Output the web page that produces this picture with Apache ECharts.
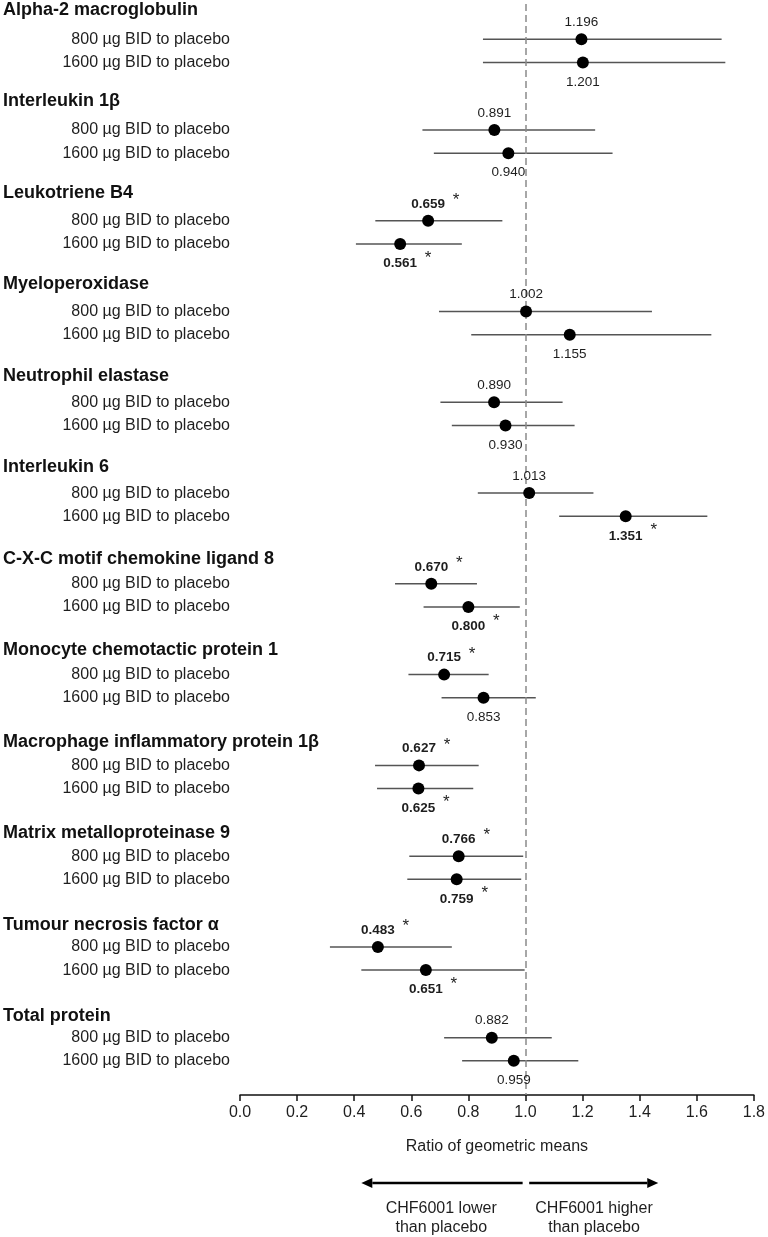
<!DOCTYPE html>
<html><head><meta charset="utf-8">
<script src="https://cdn.jsdelivr.net/npm/echarts@6/dist/echarts.min.js"></script>
<style>html,body{margin:0;padding:0;background:#fff}#c{width:768px;height:1237px}</style>
</head><body><div id="c"></div>
<script>
const groups = ['Alpha-2 macroglobulin','Interleukin 1β','Leukotriene B4','Myeloperoxidase','Neutrophil elastase','Interleukin 6','C-X-C motif chemokine ligand 8','Monocyte chemotactic protein 1','Macrophage inflammatory protein 1β','Matrix metalloproteinase 9','Tumour necrosis factor α','Total protein'];
const doseLabels = ['800 µg BID to placebo','1600 µg BID to placebo'];
const est800  = [1.196,0.891,0.659,1.002,0.890,1.013,0.670,0.715,0.627,0.766,0.483,0.882];
const low800  = [0.851,0.639,0.474,0.697,0.702,0.833,0.543,0.590,0.473,0.593,0.315,0.715];
const high800 = [1.687,1.244,0.919,1.443,1.130,1.238,0.830,0.871,0.836,0.992,0.742,1.092];
const sig800  = [false,false,true,false,false,false,true,true,true,true,true,false];
const est1600  = [1.201,0.940,0.561,1.155,0.930,1.351,0.800,0.853,0.625,0.759,0.651,0.959];
const low1600  = [0.851,0.679,0.406,0.810,0.742,1.118,0.643,0.706,0.480,0.586,0.425,0.778];
const high1600 = [1.700,1.305,0.777,1.651,1.172,1.637,0.980,1.036,0.817,0.985,0.997,1.185];
const sig1600  = [false,false,true,false,false,true,true,false,true,true,true,false];
const xTickLabels = ['0.0','0.2','0.4','0.6','0.8','1.0','1.2','1.4','1.6','1.8'];
const axisTitle = 'Ratio of geometric means';
const lowerText = 'CHF6001 lower\nthan placebo';
const higherText = 'CHF6001 higher\nthan placebo';

const FONT = '"Liberation Sans", Arial, Helvetica, sans-serif';
const TXT = '#1e1e1e';
// vertical layout (y axis units = pixels below the grid top)
const gridTop = 4, gridBottom = 142, gridLeft = 240, gridRight = 13;
const hPos = i => 6 + 91.5 * i;
const rPos = (i, d) => 35.3 + 90.76 * i + (d === 0 ? 0 : 23.2);

const labelMap = {};
const customVals = [];
groups.forEach((g, i) => {
  labelMap[hPos(i).toFixed(3)] = '{h|' + g + '}';
  customVals.push(hPos(i));
  doseLabels.forEach((dl, d) => {
    labelMap[rPos(i, d).toFixed(3)] = '{r|' + dl + '}';
    customVals.push(rPos(i, d));
  });
});

const ests = [est800, est1600], lows = [low800, low1600], highs = [high800, high1600], sigs = [sig800, sig1600];
const ciData = [], ptData = [], starData = [];
groups.forEach((g, i) => {
  for (let d = 0; d < 2; d++) {
    const y = rPos(i, d);
    ciData.push([lows[d][i], highs[d][i], y]);
    const sig = sigs[d][i];
    ptData.push({
      value: [ests[d][i], y],
      label: {
        show: true,
        position: d === 0 ? 'top' : 'bottom',
        distance: d === 0 ? 4 : 6.5,
        formatter: ests[d][i].toFixed(3),
        fontWeight: sig ? 'bold' : 'normal'
      }
    });
    if (sig) {
      starData.push({
        value: [ests[d][i], y],
        label: {
          show: true,
          position: d === 0 ? 'top' : 'bottom',
          distance: d === 0 ? 4 : 6.5,
          offset: [28, d === 0 ? -8 : -1]
        }
      });
    }
  }
});

const chart = echarts.init(document.getElementById('c'), null, {renderer: 'canvas'});
const yMin = 0, yMax = 1237 - gridTop - gridBottom;

chart.setOption({
  backgroundColor: '#fff',
  animation: false,
  textStyle: {fontFamily: FONT},
  grid: {left: gridLeft, right: gridRight, top: gridTop, bottom: gridBottom, containLabel: false},
  xAxis: {
    type: 'value', min: 0, max: 1.8, interval: 0.2,
    name: axisTitle, nameLocation: 'middle', nameGap: 44,
    nameTextStyle: {fontSize: 16, color: TXT, fontFamily: FONT},
    axisLine: {show: true, onZero: false, lineStyle: {color: '#111', width: 1.5}},
    axisTick: {show: true, length: 6, lineStyle: {color: '#111', width: 1.5}},
    axisLabel: {fontSize: 16, color: TXT, margin: 10, fontFamily: FONT,
      formatter: v => xTickLabels[Math.round(v / 0.2)] || ''},
    splitLine: {show: false}
  },
  yAxis: {
    type: 'value', inverse: true, min: yMin, max: yMax,
    axisLine: {show: false}, axisTick: {show: false}, splitLine: {show: false},
    axisLabel: {
      show: true, margin: 10, customValues: customVals,
      formatter: v => labelMap[v.toFixed(3)] || '',
      rich: {
        h: {fontSize: 18, fontWeight: 'bold', color: '#111', width: 227, align: 'left', fontFamily: FONT},
        r: {fontSize: 16, color: TXT, fontFamily: FONT}
      }
    }
  },
  series: [
    {
      type: 'custom', name: 'ci', z: 1, silent: true,
      encode: {x: [0, 1], y: 2},
      data: ciData,
      renderItem(params, api) {
        const p1 = api.coord([api.value(0), api.value(2)]);
        const p2 = api.coord([api.value(1), api.value(2)]);
        return {type: 'line', shape: {x1: p1[0], y1: p1[1], x2: p2[0], y2: p2[1]},
          style: {stroke: '#555', lineWidth: 1.5}};
      }
    },
    {
      type: 'scatter', name: 'est', z: 3, symbol: 'circle', symbolSize: 12,
      itemStyle: {color: '#000', opacity: 1},
      label: {color: TXT, fontSize: 13.5, fontFamily: FONT},
      data: ptData,
      markLine: {
        silent: true, symbol: 'none', z: 2,
        label: {show: false},
        lineStyle: {type: [7, 4], color: '#8a8a8a', width: 1.5},
        data: [{xAxis: 1.0}]
      }
    },
    {
      type: 'scatter', name: 'star', z: 4, symbolSize: 0, silent: true,
      itemStyle: {opacity: 1},
      label: {color: TXT, fontSize: 17, fontFamily: FONT, formatter: '*'},
      data: starData
    }
  ]
});

// arrows + captions under the axis
const axisY = 1237 - gridBottom;
const px = v => chart.convertToPixel({gridIndex: 0}, [v, 0])[0];
const aY = axisY + 88;
const head = 11, half = 5;
function arrow(xFrom, xTo) {
  const dir = xTo > xFrom ? 1 : -1;
  return [
    {type: 'line', shape: {x1: xFrom, y1: aY, x2: xTo - dir * head, y2: aY}, style: {stroke: '#000', lineWidth: 2.5}},
    {type: 'polygon', shape: {points: [[xTo, aY], [xTo - dir * head, aY - half], [xTo - dir * head, aY + half]]}, style: {fill: '#000'}}
  ];
}
const lx1 = px(0.99), lx2 = px(0.425), rx1 = px(1.013), rx2 = px(1.465);
chart.setOption({
  graphic: [
    ...arrow(lx1, lx2),
    ...arrow(rx1, rx2),
    {type: 'text', x: px(0.705), y: aY + 16, style: {text: lowerText, fill: TXT, font: '16px ' + FONT, textAlign: 'center', lineHeight: 19}},
    {type: 'text', x: px(1.24), y: aY + 16, style: {text: higherText, fill: TXT, font: '16px ' + FONT, textAlign: 'center', lineHeight: 19}}
  ]
});
</script>
</body></html>
